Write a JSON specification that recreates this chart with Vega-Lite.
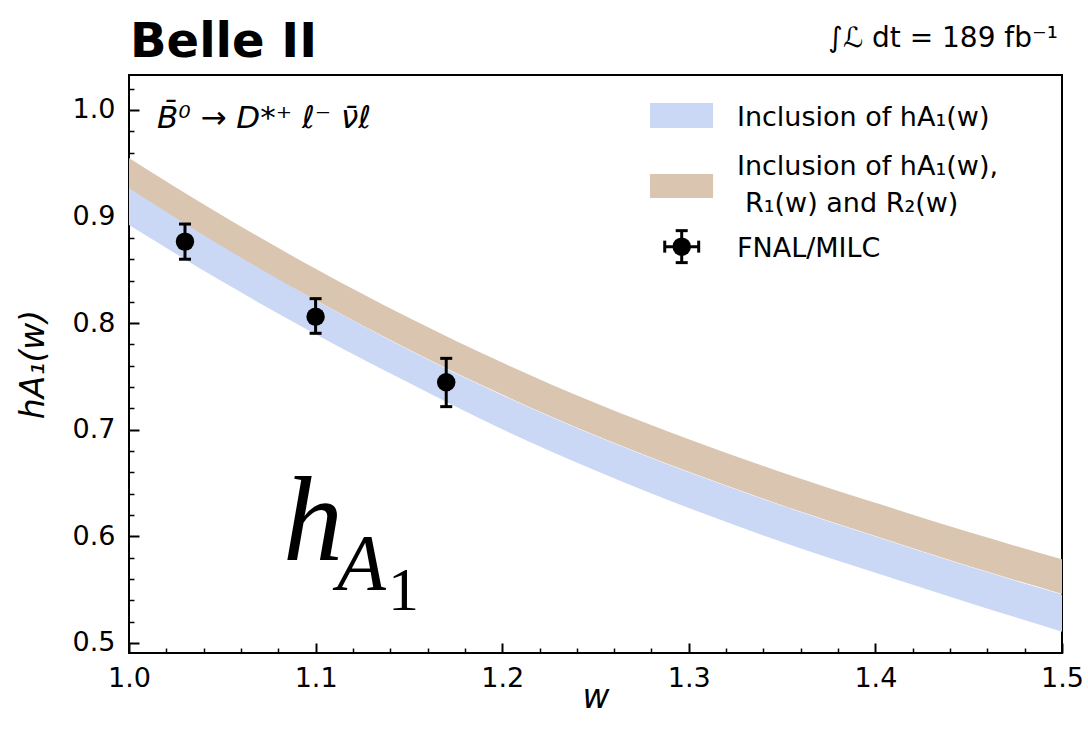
{
  "$schema": "https://vega.github.io/schema/vega-lite/v6.json",
  "width": 933,
  "height": 578,
  "autosize": {"type": "none"},
  "padding": {"left": 129, "top": 75, "right": 26, "bottom": 80},
  "background": "white",
  "config": {
    "font": "DejaVu Sans",
    "view": {"stroke": "black", "strokeWidth": 2},
    "axis": {"domain": false, "grid": false, "labelFont": "DejaVu Sans", "labelFontSize": 27, "labelColor": "black", "tickColor": "black", "titleFont": "DejaVu Sans", "titleFontSize": 33, "titleFontStyle": "italic", "titleFontWeight": "normal", "titleColor": "black", "labelOverlap": false, "labelFlush": false}
  },
  "datasets": {
    "bands": [
      {"w": 1.00, "blue_lo": 0.892, "blue_hi": 0.929, "tan_lo": 0.9265, "tan_hi": 0.955},
      {"w": 1.05, "blue_lo": 0.839, "blue_hi": 0.874, "tan_lo": 0.872, "tan_hi": 0.901},
      {"w": 1.10, "blue_lo": 0.7897, "blue_hi": 0.8217, "tan_lo": 0.8217, "tan_hi": 0.851},
      {"w": 1.15, "blue_lo": 0.744, "blue_hi": 0.7749, "tan_lo": 0.7754, "tan_hi": 0.805},
      {"w": 1.20, "blue_lo": 0.7005, "blue_hi": 0.7325, "tan_lo": 0.733, "tan_hi": 0.763},
      {"w": 1.25, "blue_lo": 0.6618, "blue_hi": 0.6943, "tan_lo": 0.6948, "tan_hi": 0.725},
      {"w": 1.30, "blue_lo": 0.6266, "blue_hi": 0.6601, "tan_lo": 0.6606, "tan_hi": 0.691},
      {"w": 1.35, "blue_lo": 0.5947, "blue_hi": 0.6287, "tan_lo": 0.6292, "tan_hi": 0.660},
      {"w": 1.40, "blue_lo": 0.5658, "blue_hi": 0.5998, "tan_lo": 0.6003, "tan_hi": 0.6315},
      {"w": 1.45, "blue_lo": 0.5378, "blue_hi": 0.5717, "tan_lo": 0.5722, "tan_hi": 0.604},
      {"w": 1.50, "blue_lo": 0.5106, "blue_hi": 0.5455, "tan_lo": 0.546, "tan_hi": 0.5785}
    ],
    "lattice": [
      {"w": 1.03, "h": 0.8765, "lo": 0.860, "hi": 0.893},
      {"w": 1.10, "h": 0.806, "lo": 0.7905, "hi": 0.823},
      {"w": 1.17, "h": 0.7446, "lo": 0.7217, "hi": 0.767}
    ],
    "one": [{}]
  },
  "layer": [
    {
      "data": {"name": "bands"},
      "mark": {"type": "area", "interpolate": "monotone", "color": "#cad8f6", "opacity": 1},
      "encoding": {
        "x": {"field": "w", "type": "quantitative", "scale": {"domain": [1.0, 1.5], "nice": false, "zero": false},
          "title": "w",
          "axis": {"values": [1.0,1.02,1.04,1.06,1.08,1.1,1.12,1.14,1.16,1.18,1.2,1.22,1.24,1.26,1.28,1.3,1.32,1.34,1.36,1.38,1.4,1.42,1.44,1.46,1.48,1.5],
            "tickCount": 200,
            "labelExpr": "abs(datum.value*10 - round(datum.value*10)) < 0.001 ? format(datum.value, '.1f') : ''",
            "labelOverlap": false,
            "tickSize": {"condition": {"test": "abs(datum.value*10 - round(datum.value*10)) < 0.001", "value": -10}, "value": -5},
            "tickWidth": {"condition": {"test": "abs(datum.value*10 - round(datum.value*10)) < 0.001", "value": 2}, "value": 1.5},
            "labelPadding": 22, "titlePadding": -15}},
        "y": {"field": "blue_lo", "type": "quantitative", "scale": {"domain": [0.4906, 1.0328], "nice": false, "zero": false},
          "title": "hA₁(w)",
          "axis": {"values": [0.5,0.52,0.54,0.56,0.58,0.6,0.62,0.64,0.66,0.68,0.7,0.72,0.74,0.76,0.78,0.8,0.82,0.84,0.86,0.88,0.9,0.92,0.94,0.96,0.98,1.0,1.02],
            "tickCount": 200,
            "labelExpr": "abs(datum.value*10 - round(datum.value*10)) < 0.001 ? format(datum.value, '.1f') : ''",
            "labelOverlap": false,
            "tickSize": {"condition": {"test": "abs(datum.value*10 - round(datum.value*10)) < 0.001", "value": -10}, "value": -5},
            "tickWidth": {"condition": {"test": "abs(datum.value*10 - round(datum.value*10)) < 0.001", "value": 2}, "value": 1.5},
            "labelPadding": 24, "titlePadding": 22}},
        "y2": {"field": "blue_hi"}
      }
    },
    {
      "data": {"name": "bands"},
      "mark": {"type": "area", "interpolate": "monotone", "color": "#dac6b0", "opacity": 1},
      "encoding": {
        "x": {"field": "w", "type": "quantitative"},
        "y": {"field": "tan_lo", "type": "quantitative"},
        "y2": {"field": "tan_hi"}
      }
    },
    {
      "data": {"name": "lattice"},
      "mark": {"type": "rule", "color": "black", "strokeWidth": 3, "opacity": 1},
      "encoding": {
        "x": {"field": "w", "type": "quantitative"},
        "y": {"field": "lo", "type": "quantitative"},
        "y2": {"field": "hi"}
      }
    },
    {
      "data": {"name": "lattice"},
      "mark": {"type": "tick", "orient": "horizontal", "color": "black", "size": 12, "thickness": 3, "opacity": 1},
      "encoding": {
        "x": {"field": "w", "type": "quantitative"},
        "y": {"field": "lo", "type": "quantitative"}
      }
    },
    {
      "data": {"name": "lattice"},
      "mark": {"type": "tick", "orient": "horizontal", "color": "black", "size": 12, "thickness": 3, "opacity": 1},
      "encoding": {
        "x": {"field": "w", "type": "quantitative"},
        "y": {"field": "hi", "type": "quantitative"}
      }
    },
    {
      "data": {"name": "lattice"},
      "mark": {"type": "point", "filled": true, "color": "black", "opacity": 1, "size": 340},
      "encoding": {
        "x": {"field": "w", "type": "quantitative"},
        "y": {"field": "h", "type": "quantitative"}
      }
    },
    {
      "data": {"name": "one"},
      "mark": {"type": "rect", "color": "#cad8f6"},
      "encoding": {
        "x": {"datum": 1.2792, "type": "quantitative"},
        "x2": {"datum": 1.313},
        "y": {"datum": 1.0066, "type": "quantitative"},
        "y2": {"datum": 0.9831}
      }
    },
    {
      "data": {"name": "one"},
      "mark": {"type": "rect", "color": "#dac6b0"},
      "encoding": {
        "x": {"datum": 1.2792, "type": "quantitative"},
        "x2": {"datum": 1.313},
        "y": {"datum": 0.940, "type": "quantitative"},
        "y2": {"datum": 0.9174}
      }
    },
    {
      "data": {"name": "one"},
      "mark": {"type": "rule", "color": "black", "strokeWidth": 3, "opacity": 1},
      "encoding": {
        "x": {"datum": 1.2962, "type": "quantitative"},
        "y": {"datum": 0.8568, "type": "quantitative"},
        "y2": {"datum": 0.8868}
      }
    },
    {
      "data": {"name": "one"},
      "mark": {"type": "rule", "color": "black", "strokeWidth": 3, "opacity": 1},
      "encoding": {
        "x": {"datum": 1.2871, "type": "quantitative"},
        "x2": {"datum": 1.3053},
        "y": {"datum": 0.8718, "type": "quantitative"}
      }
    },
    {
      "data": {"name": "one"},
      "mark": {"type": "tick", "orient": "horizontal", "color": "black", "size": 12, "thickness": 3, "opacity": 1},
      "encoding": {
        "x": {"datum": 1.2962, "type": "quantitative"},
        "y": {"datum": 0.8568, "type": "quantitative"}
      }
    },
    {
      "data": {"name": "one"},
      "mark": {"type": "tick", "orient": "horizontal", "color": "black", "size": 12, "thickness": 3, "opacity": 1},
      "encoding": {
        "x": {"datum": 1.2962, "type": "quantitative"},
        "y": {"datum": 0.8868, "type": "quantitative"}
      }
    },
    {
      "data": {"name": "one"},
      "mark": {"type": "tick", "orient": "vertical", "color": "black", "size": 12, "thickness": 3, "opacity": 1},
      "encoding": {
        "x": {"datum": 1.2871, "type": "quantitative"},
        "y": {"datum": 0.8718, "type": "quantitative"}
      }
    },
    {
      "data": {"name": "one"},
      "mark": {"type": "tick", "orient": "vertical", "color": "black", "size": 12, "thickness": 3, "opacity": 1},
      "encoding": {
        "x": {"datum": 1.3053, "type": "quantitative"},
        "y": {"datum": 0.8718, "type": "quantitative"}
      }
    },
    {
      "data": {"name": "one"},
      "mark": {"type": "point", "filled": true, "color": "black", "opacity": 1, "size": 340},
      "encoding": {
        "x": {"datum": 1.2962, "type": "quantitative"},
        "y": {"datum": 0.8718, "type": "quantitative"}
      }
    },
    {
      "data": {"name": "one"},
      "mark": {"type": "text", "align": "left", "baseline": "alphabetic", "fontSize": 27, "color": "black", "font": "DejaVu Sans"},
      "encoding": {
        "x": {"datum": 1.3258, "type": "quantitative"},
        "y": {"datum": 0.985, "type": "quantitative"},
        "text": {"value": "Inclusion of hA₁(w)"}
      }
    },
    {
      "data": {"name": "one"},
      "mark": {"type": "text", "align": "left", "baseline": "alphabetic", "fontSize": 27, "color": "black", "font": "DejaVu Sans"},
      "encoding": {
        "x": {"datum": 1.3258, "type": "quantitative"},
        "y": {"datum": 0.939, "type": "quantitative"},
        "text": {"value": "Inclusion of hA₁(w),"}
      }
    },
    {
      "data": {"name": "one"},
      "mark": {"type": "text", "align": "left", "baseline": "alphabetic", "fontSize": 27, "color": "black", "font": "DejaVu Sans"},
      "encoding": {
        "x": {"datum": 1.3301, "type": "quantitative"},
        "y": {"datum": 0.9043, "type": "quantitative"},
        "text": {"value": "R₁(w) and R₂(w)"}
      }
    },
    {
      "data": {"name": "one"},
      "mark": {"type": "text", "align": "left", "baseline": "alphabetic", "fontSize": 27, "color": "black", "font": "DejaVu Sans"},
      "encoding": {
        "x": {"datum": 1.3258, "type": "quantitative"},
        "y": {"datum": 0.8621, "type": "quantitative"},
        "text": {"value": "FNAL/MILC"}
      }
    },
    {
      "data": {"name": "one"},
      "mark": {"type": "text", "align": "left", "baseline": "alphabetic", "fontSize": 31, "fontStyle": "italic", "color": "black", "font": "DejaVu Sans"},
      "encoding": {
        "x": {"datum": 1.015, "type": "quantitative"},
        "y": {"datum": 0.983, "type": "quantitative"},
        "text": {"value": "B̄⁰ → D*⁺ ℓ⁻ ν̄ℓ"}
      }
    },
    {
      "data": {"name": "one"},
      "mark": {"type": "text", "align": "right", "baseline": "alphabetic", "fontSize": 28, "color": "black", "font": "DejaVu Sans", "dx": -4},
      "encoding": {
        "x": {"datum": 1.5, "type": "quantitative"},
        "y": {"datum": 1.0591, "type": "quantitative"},
        "text": {"value": "∫ℒ dt = 189 fb⁻¹"}
      }
    },
    {
      "data": {"name": "one"},
      "mark": {"type": "text", "align": "left", "baseline": "alphabetic", "fontSize": 48, "fontWeight": "bold", "color": "black", "font": "DejaVu Sans", "dx": 1},
      "encoding": {
        "x": {"datum": 1.0, "type": "quantitative"},
        "y": {"datum": 1.0497, "type": "quantitative"},
        "text": {"value": "Belle II"}
      }
    },
    {
      "data": {"name": "one"},
      "mark": {"type": "text", "align": "left", "baseline": "alphabetic", "fontSize": 120, "fontStyle": "italic", "color": "black", "font": "Liberation Serif"},
      "encoding": {
        "x": {"datum": 1.0825, "type": "quantitative"},
        "y": {"datum": 0.5779, "type": "quantitative"},
        "text": {"value": "h"}
      }
    },
    {
      "data": {"name": "one"},
      "mark": {"type": "text", "align": "left", "baseline": "alphabetic", "fontSize": 80, "fontStyle": "italic", "color": "black", "font": "Liberation Serif"},
      "encoding": {
        "x": {"datum": 1.1115, "type": "quantitative"},
        "y": {"datum": 0.5497, "type": "quantitative"},
        "text": {"value": "A"}
      }
    },
    {
      "data": {"name": "one"},
      "mark": {"type": "text", "align": "left", "baseline": "alphabetic", "fontSize": 62, "color": "black", "font": "Liberation Serif"},
      "encoding": {
        "x": {"datum": 1.1388, "type": "quantitative"},
        "y": {"datum": 0.531, "type": "quantitative"},
        "text": {"value": "1"}
      }
    }
  ]
}
